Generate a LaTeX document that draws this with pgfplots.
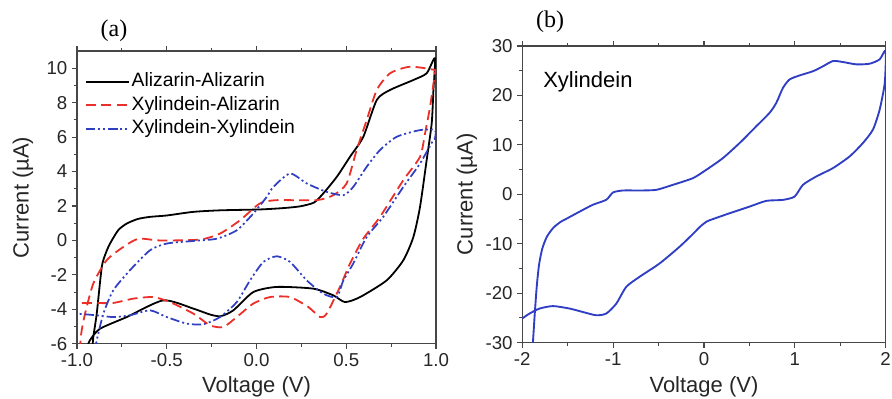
\documentclass[border=0pt]{standalone}
\usepackage{fontspec}
\setmainfont{Liberation Sans}
\newfontfamily\seriffont{Liberation Serif}
\usepackage{pgfplots}
\pgfplotsset{compat=1.18}
\definecolor{cred}{RGB}{234,48,40}
\definecolor{cblue}{RGB}{48,62,196}
\definecolor{axgray}{RGB}{70,70,70}
\tikzset{
  blackline/.style={black, line width=1.35pt},
  redline/.style={cred, line width=1.35pt, dash pattern=on 7.5pt off 4pt},
  blueline/.style={cblue, line width=1.3pt, dash pattern=on 7pt off 2.2pt on 1.5pt off 2.2pt on 1.5pt off 2.2pt},
}
\begin{document}
\begin{tikzpicture}
\path[use as bounding box] (0,0) rectangle (669pt,-299.25pt);
\pgfplotsset{
  every axis/.append style={
    scale only axis,
    axis line style={draw=axgray, line width=0.9pt},
    tick align=outside, xtick pos=both, ytick pos=left,
    major tick length=3.75pt, minor tick length=2.25pt,
    every tick/.style={axgray, line width=0.8pt},
    tick label style={font=\fontsize{14}{15}\selectfont, text=black!85},
    label style={font=\fontsize{16.5}{18}\selectfont, text=black!85},
  }
}
% ---------------- panel (a)
\begin{axis}[
  at={(57.75pt,-257.8pt)}, anchor=south west,
  width=269.25pt, height=219.5pt,
  xmin=-1, xmax=1, ymin=-6, ymax=11,
  xtick={-1,-0.5,0,0.5,1}, xticklabels={-1.0,-0.5,0.0,0.5,1.0},
  ytick={-6,-4,-2,0,2,4,6,8,10}, yticklabels={-6,-4,-2,0,2,4,6,8,10},
  minor x tick num=1, minor y tick num=1,
  xlabel={Voltage (V)}, ylabel={Current (µA)},
  xlabel style={at={(axis description cs:0.5,-0.148)}, anchor=center},
  ylabel style={at={(axis description cs:-0.1504,0.5)}, anchor=center},
  legend style={draw=none, fill=none, inner sep=0pt,
    at={(axis description cs:0.022,0.934)}, anchor=north west,
    font=\fontsize{14.5}{15}\selectfont, row sep=1.2pt,
    nodes={text height=10.5pt, text depth=3pt, inner sep=1.5pt},
    /tikz/every even column/.append style={column sep=3.75pt}},
  legend cell align=left,
]
\addlegendimage{legend image code/.code={\draw[blackline] (0pt,0pt) -- (32pt,0pt);}}
\addlegendentry{Alizarin-Alizarin}
\addlegendimage{legend image code/.code={\draw[redline] (0pt,0pt) -- (32pt,0pt);}}
\addlegendentry{Xylindein-Alizarin}
\addlegendimage{legend image code/.code={\draw[blueline] (0pt,0pt) -- (32pt,0pt);}}
\addlegendentry{Xylindein-Xylindein}
\addplot[blackline, smooth, tension=0.4, forget plot] coordinates {
(-0.915,-6.4) (-0.909,-5.6) (-0.89,-4.25) (-0.862,-1.54) (-0.84,-0.75) (-0.816,-0.18)
(-0.77,0.6) (-0.723,0.98) (-0.66,1.25) (-0.593,1.37) (-0.5,1.45) (-0.352,1.66)
(-0.2,1.75) (0.019,1.8) (0.15,1.88) (0.242,1.98) (0.32,2.2) (0.372,2.73)
(0.447,3.69) (0.521,4.86) (0.595,6.02) (0.67,8.16) (0.744,8.74) (0.874,9.32)
(0.948,9.71) (0.994,10.58)
(0.985,8.6) (0.976,6.8) (0.948,4.67) (0.911,1.95) (0.874,0.2) (0.818,-1.15)
(0.725,-2.32) (0.577,-3.29) (0.493,-3.58) (0.428,-3.19) (0.316,-2.8) (0.113,-2.7)
(-0.018,-3.0) (-0.129,-4.06) (-0.2,-4.4) (-0.26,-4.3) (-0.352,-3.96) (-0.519,-3.48)
(-0.723,-4.45) (-0.872,-5.13) (-0.928,-5.8) (-0.95,-6.4)
};
\addplot[redline, smooth, tension=0.4, forget plot] coordinates {
(-0.985,-6.4) (-0.975,-5.3) (-0.955,-4.25) (-0.909,-2.5) (-0.835,-1.15) (-0.742,-0.38)
(-0.658,0.1) (-0.538,0.0) (-0.315,0.05) (-0.203,0.4) (-0.092,1.17) (0.019,2.15)
(0.113,2.34) (0.335,2.34) (0.428,2.63) (0.502,3.31) (0.558,5.25) (0.614,6.99)
(0.67,8.74) (0.744,9.71) (0.855,10.09) (0.994,9.9)
(0.994,9.71) (0.967,7.77) (0.939,6.22) (0.911,4.86) (0.818,3.5) (0.688,1.37)
(0.595,0.1) (0.521,-1.34) (0.465,-2.7) (0.391,-4.25) (0.354,-4.45) (0.289,-3.87)
(0.187,-3.29) (0.075,-3.29) (-0.018,-3.67) (-0.11,-4.45) (-0.185,-5.03) (-0.259,-4.93)
(-0.352,-4.25) (-0.482,-3.58) (-0.575,-3.29) (-0.686,-3.38) (-0.798,-3.63) (-0.909,-3.63)
(-1.0,-3.63)
};
\addplot[blueline, smooth, tension=0.4, forget plot] coordinates {
(-0.9,-6.4) (-0.89,-5.8) (-0.853,-4.25) (-0.798,-2.9) (-0.705,-1.73) (-0.593,-0.57)
(-0.5,-0.18) (-0.352,-0.03) (-0.222,0.1) (-0.11,0.59) (-0.018,1.56) (0.057,2.53)
(0.094,3.11) (0.187,3.89) (0.28,3.31) (0.391,2.82) (0.484,2.63) (0.539,3.11)
(0.614,4.28) (0.688,5.25) (0.781,6.02) (0.911,6.41) (0.994,6.41)
(0.994,5.9) (0.985,5.83) (0.911,4.47) (0.818,3.11) (0.706,1.37) (0.614,0.2)
(0.539,-1.34) (0.484,-2.32) (0.447,-3.29) (0.372,-3.09) (0.28,-2.32) (0.187,-1.25)
(0.113,-0.92) (0.038,-1.25) (-0.036,-2.32) (-0.11,-3.58) (-0.203,-4.45) (-0.296,-4.87)
(-0.389,-4.83) (-0.5,-4.45) (-0.593,-4.06) (-0.705,-4.35) (-0.798,-4.45) (-0.89,-4.35)
(-1.0,-4.25)
};
\end{axis}
% ---------------- panel (b)
\begin{axis}[
  at={(391.7pt,-257.0pt)}, anchor=south west,
  width=272.55pt, height=222.5pt,
  xmin=-2, xmax=2, ymin=-30, ymax=30,
  xtick={-2,-1,0,1,2}, xticklabels={-2,-1,0,1,2},
  ytick={-30,-20,-10,0,10,20,30}, yticklabels={-30,-20,-10,0,10,20,30},
  minor x tick num=1, minor y tick num=1,
  xlabel={Voltage (V)}, ylabel={Current (µA)},
  xlabel style={at={(axis description cs:0.5,-0.149)}, anchor=center},
  ylabel style={at={(axis description cs:-0.1523,0.5)}, anchor=center},
]
\addplot[cblue, line width=1.4pt, smooth, tension=0.4] coordinates {
(-1.89,-31) (-1.883,-30) (-1.862,-24) (-1.84,-18.5) (-1.815,-14.2) (-1.78,-11)
(-1.73,-8.6) (-1.66,-6.8) (-1.58,-5.6) (-1.5,-4.8)
(-1.369,-3.5) (-1.222,-2.1) (-1.075,-1.1) (-1.002,0.37) (-0.892,0.78)
(-0.708,0.78) (-0.525,0.91) (-0.341,1.93) (-0.121,3.28) (0.026,4.97) (0.209,7.34)
(0.393,10.39) (0.576,13.77) (0.723,16.5) (0.796,18.5) (0.87,21.55) (0.943,23.24)
(1.053,24.05) (1.2,24.9) (1.31,25.9) (1.42,26.96) (1.53,26.76) (1.677,26.29)
(1.824,26.42) (1.934,27.3) (2.0,29.0)
(1.99,22.56) (1.934,17.15) (1.86,13.1) (1.75,10.39) (1.604,7.68) (1.42,5.31)
(1.237,3.62) (1.09,1.93) (0.998,-0.44) (0.87,-1.12) (0.686,-1.32) (0.503,-2.47)
(0.283,-3.82) (0.099,-5.0) (0.03,-5.5) (-0.04,-6.5) (-0.121,-8.0) (-0.268,-10.59) (-0.488,-13.97)
(-0.708,-16.67) (-0.855,-18.7) (-0.965,-22.1) (-1.075,-24.1) (-1.185,-24.46) (-1.332,-23.8)
(-1.479,-23.1) (-1.662,-22.6) (-1.809,-23.1) (-1.919,-24.1) (-2.0,-25.1)
};
\node[anchor=west, font=\fontsize{16.5}{18}\selectfont, inner sep=0pt] at (axis cs:-1.772,22.7) {Xylindein};
\end{axis}
\node[font=\seriffont\fontsize{18}{19}\selectfont] at (85.5pt,-23.25pt) {(a)};
\node[font=\seriffont\fontsize{18}{19}\selectfont] at (412.5pt,-16.5pt) {(b)};
\end{tikzpicture}
\end{document}
